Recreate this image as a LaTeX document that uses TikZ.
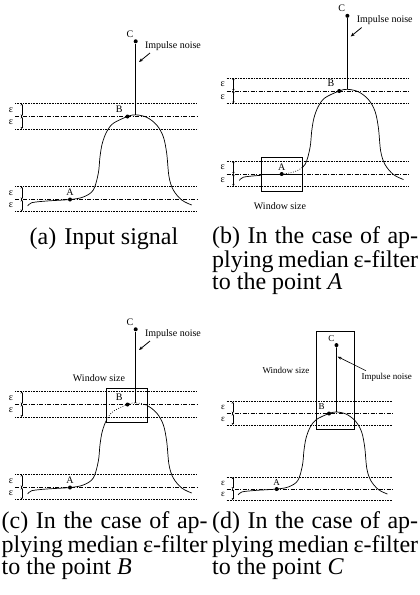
\documentclass[tikz,border=0pt]{standalone}
\usepackage{fontspec}
\setmainfont{Liberation Serif}
\usetikzlibrary{arrows.meta}
\tikzset{
 dotline/.style={line width=0.6pt, dash pattern=on 0.7pt off 0.9pt},
 dashdotline/.style={line width=0.6pt, dash pattern=on 4pt off 1.5pt on 1pt off 1.5pt},
 sig/.style={line width=0.7pt},
 sigdot/.style={line width=0.7pt, dash pattern=on 0.8pt off 1.6pt},
 epsarrow/.style={line width=0.4pt,{Stealth[length=2pt,width=2.2pt]}-{Stealth[length=2pt,width=2.2pt]}},
 ptdot/.style={circle,fill,inner sep=0pt,minimum size=4pt},
 lbl/.style={inner sep=0pt},
 winbox/.style={draw,line width=0.7pt},
 noisearrow/.style={-{Stealth[length=4pt,width=3.2pt]}, line width=0.8pt},
 spikeline/.style={line width=0.9pt},
 captext/.style={font=\fontsize{24}{22}\selectfont, inner sep=0pt, align=left},
}
\newcommand\jline[1]{\makebox[206pt][s]{#1}}
% signal curve in panel (a) coordinates
\newcommand\sigcurve[1]{\draw[#1] plot[smooth,tension=0.55] coordinates {(27.7,206) (31.7,202.7) (46.7,201) (70,199.5) (83.3,197) (93.3,190) (98.3,173.3) (100,156.7) (102.3,143.3) (106.7,131.7) (113.3,123.3) (127.5,116.5) (135.7,114.8) (146.7,117.3) (156.7,125) (163.3,136.7) (166.7,153.3) (169,176.7) (173.3,190) (181.7,200) (191.7,205)};}
% epsilon bands
\newcommand\levels[1]{%
  \draw[dotline] (15,103.5) -- (197,103.5);
  \draw[dashdotline] (15,116.5) -- (197,116.5);
  \draw[dotline] (15,129) -- (197,129);
  \draw[dotline] (15,186.5) -- (197,186.5);
  \draw[dashdotline] (15,199.5) -- (197,199.5);
  \draw[dotline] (15,211.5) -- (197,211.5);
  \draw[epsarrow] (21.7,103.5) -- (21.7,116.5);
  \draw[epsarrow] (21.7,116.5) -- (21.7,129);
  \draw[epsarrow] (21.7,186.5) -- (21.7,199.5);
  \draw[epsarrow] (21.7,199.5) -- (21.7,211.5);
  \node[lbl,font=#1] (e1) at (11,110) {ε};
  \node[lbl,font=#1] (e2) at (11,122.5) {ε};
  \node[lbl,font=#1] (e3) at (11,193) {ε};
  \node[lbl,font=#1] (e4) at (11,205.5) {ε};
}
\newcommand\points[2]{% #1 prefix, #2 font
  \node[ptdot] (#1A) at (70,199.5) {};
  \node[lbl,font=#2] (#1Al) at (70,192.3) {A};
  \node[ptdot] (#1B) at (127.5,116.5) {};
  \node[lbl,font=#2] (#1Bl) at (119.3,109) {B};
  \coordinate (#1P) at (135.7,114.8);
  \node[ptdot] (#1C) at (135.7,41.3) {};
  \node[lbl,font=#2] (#1Cl) at (130,34) {C};
  \draw[spikeline] (#1P) -- (#1C);
}
\newcommand\noise[1]{%
  \node[lbl,font=\fontsize{10}{12}\selectfont] (#1N) at (173,46) {Impulse noise};
  \coordinate (#1n1) at (150,53);
  \coordinate (#1n2) at (139,62);
  \draw[noisearrow] (#1n1) -- (#1n2);
}
\begin{document}
\begin{tikzpicture}[x=1pt,y=-1pt]
\useasboundingbox (0,0) rectangle (420,595);
\def\sfont{\fontsize{10}{12}\selectfont}
% ---------- (a)
\begin{scope}
  \levels{\sfont}
  \sigcurve{sig}
  \points{a}{\sfont}
  \noise{a}
\end{scope}
% ---------- (b)
\begin{scope}[shift={(211.7,-25.5)}]
  \levels{\sfont}
  \begin{scope}
    \clip (0,0) rectangle (49.3,260);
    \sigcurve{sig}
  \end{scope}
  \begin{scope}
    \clip (90.3,0) rectangle (220,260);
    \sigcurve{sig}
  \end{scope}
  \begin{scope}
    \clip (70,150) rectangle (90.3,217.2);
    \sigcurve{sigdot}
  \end{scope}
  \draw[line width=0.9pt] (49.3,199.5) -- (90.3,199.5);
  \node[winbox,minimum width=41pt,minimum height=34.4pt,inner sep=0pt] (bW) at (69.8,200) {};
  \node[lbl,font=\sfont] (bWl) at (68.3,231.5) {Window size};
  \points{b}{\sfont}
  \noise{b}
\end{scope}
% ---------- (c)
\begin{scope}[shift={(0,288)}]
  \levels{\sfont}
  \begin{scope}
    \clip (0,0) rectangle (106.7,260);
    \sigcurve{sig}
  \end{scope}
  \begin{scope}
    \clip (147,0) rectangle (220,260);
    \sigcurve{sig}
  \end{scope}
  \begin{scope}
    \clip (106.7,100) rectangle (147,140);
    \sigcurve{sigdot}
  \end{scope}
  \node[winbox,minimum width=40.3pt,minimum height=33.6pt,inner sep=0pt] (cW) at (126.85,117.5) {};
  \node[lbl,font=\sfont] (cWl) at (99,90.3) {Window size};
  \points{c}{\sfont}
  \noise{c}
\end{scope}
% ---------- (d)
\begin{scope}[shift={(213,307.5)},scale=0.91]
  \def\dfont{\fontsize{9}{11}\selectfont}
  \levels{\dfont}
  \sigcurve{sig}
  \points{d}{\dfont}
  \node[winbox,minimum width=37.3pt,minimum height=98pt,inner sep=0pt] (dW) at (134.5,79.65) {};
  \node[lbl,font=\dfont] (dWl) at (80.2,69.5) {Window size};
  \node[lbl,font=\dfont] (dN) at (190.9,76.7) {Impulse noise};
  \coordinate (dn1) at (168.1,69.5);
  \coordinate (dn2) at (137,54);
  \draw[-{Stealth[length=4pt,width=3pt]},line width=0.6pt] (dn1) -- (dn2);
\end{scope}
% ---------- captions
\node[captext,anchor=base] (capa) at (104,244) {(a)\hspace{8pt}Input signal};
\node[captext,anchor=base west] (capb) at (212,289) {\jline{(b) In the case of ap-}\\\jline{plying median ε-filter}\\to the point \textit{A}};
\node[captext,anchor=base west] (capc) at (1.5,574) {\jline{(c) In the case of ap-}\\\jline{plying median ε-filter}\\to the point \textit{B}};
\node[captext,anchor=base west] (capd) at (212,574) {\jline{(d) In the case of ap-}\\\jline{plying median ε-filter}\\to the point \textit{C}};
\end{tikzpicture}
\end{document}
